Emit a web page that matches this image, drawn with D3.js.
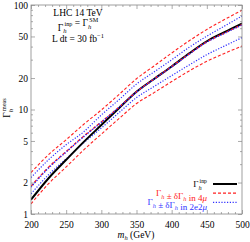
<!DOCTYPE html>
<html>
<head>
<meta charset="utf-8">
<script src="https://cdn.jsdelivr.net/npm/d3@7"></script>
<style>
body{margin:0;background:#fff;}
text{font-family:"Liberation Serif","DejaVu Serif",serif;}
</style>
</head>
<body>
<script>
"use strict";

const masses   = [200,225,250,275,300,325,350,375,400,425,450,475,500];
const gInput   = [1.37,2.2,3.3,4.9,7.1,10.3,14.8,19.6,25.8,34.5,45,55,66.5];
const red4mu   = [1.84,2.8,3.96,5.55,7.6,10.5,14.8,19.6,25.8,34.1,44.5,53.8,65.0];
const red4muUp = [2.49,3.7,5.14,7.22,9.9,13.9,19.7,26.1,34.7,45.5,58.3,72.5,89.2];
const red4muLo = [1.25,1.95,2.82,4.11,5.81,8.17,11.4,14.5,18.5,23.4,28.9,34.4,40.5];
const blue2e2mu   = [1.81,2.76,3.92,5.5,7.55,10.45,14.7,19.5,25.6,33.9,44.2,53.5,64.5];
const blue2e2muUp = [2.23,3.31,4.6,6.12,8.86,12.4,17.5,22.9,29.9,39.4,50.3,62.8,78.5];
const blue2e2muLo = [1.56,2.38,3.37,4.8,6.65,9.32,13.0,16.6,21.1,26.7,33.5,40.5,48.7];
const xTicks = [200,250,300,350,400,450,500];
const yTicks = [1,2,5,10,20,50,100];

const w = 250, h = 242;
const pL = 31, pR = 242, pT = 5, pB = 214;

const svg = d3.select("body").append("svg")
  .attr("width", w).attr("height", h);

const x = d3.scaleLinear().domain([200,500]).range([pL,pR]);
const y = d3.scaleLog().domain([1,100]).range([pB,pT]);

const xMinor = d3.range(200,501,10).filter(v => v % 50 != 0);
const yMinor = [3,4,6,7,8,9,30,40,60,70,80,90];

svg.append("defs").append("clipPath").attr("id","clip")
  .append("rect").attr("x",pL).attr("y",pT)
  .attr("width",pR-pL).attr("height",pB-pT);

const line = d3.line()
  .x((d,i) => x(masses[i]))
  .y(d => y(d))
  .curve(d3.curveMonotoneX);

const series = [
  {v: red4muUp, c: "#ff2020", dash: "3,2", wd: 1.1},
  {v: red4muLo, c: "#ff2020", dash: "3,2", wd: 1.1},
  {v: blue2e2muUp, c: "#3030ff", dash: "1.2,1.6", wd: 1.2},
  {v: blue2e2muLo, c: "#3030ff", dash: "1.2,1.6", wd: 1.2},
  {v: gInput, c: "#000", dash: null, wd: 2},
  {v: red4mu, c: "#ff2020", dash: "3,2", wd: 1.4},
  {v: blue2e2mu, c: "#2020ff", dash: "1.2,1.6", wd: 1.4}
];

svg.append("g").attr("clip-path","url(#clip)")
  .selectAll("path").data(series).enter().append("path")
  .attr("d", d => line(d.v))
  .attr("fill","none")
  .attr("stroke", d => d.c)
  .attr("stroke-width", d => d.wd)
  .attr("stroke-dasharray", d => d.dash);

// frame + ticks
svg.append("rect").attr("x",pL).attr("y",pT)
  .attr("width",pR-pL).attr("height",pB-pT)
  .attr("fill","none").attr("stroke","#888").attr("stroke-width",0.8);

function styleAxis(g){
  g.select(".domain").remove();
  g.selectAll("line").attr("stroke","#888").attr("stroke-width",0.7);
  g.selectAll("text").attr("font-size","9.5px").attr("fill","#000")
    .attr("font-family","'Liberation Serif',serif");
}

svg.append("g").attr("transform","translate(0,"+pB+")")
  .call(d3.axisBottom(x).tickValues(xTicks).tickSize(-4).tickPadding(7).tickFormat(d3.format("d")))
  .call(styleAxis);
svg.append("g").attr("transform","translate(0,"+pB+")")
  .call(d3.axisBottom(x).tickValues(xMinor).tickSize(-2).tickFormat(""))
  .call(styleAxis);
svg.append("g").attr("transform","translate(0,"+pT+")")
  .call(d3.axisTop(x).tickValues(xTicks).tickSize(-4).tickFormat(""))
  .call(styleAxis);
svg.append("g").attr("transform","translate(0,"+pT+")")
  .call(d3.axisTop(x).tickValues(xMinor).tickSize(-2).tickFormat(""))
  .call(styleAxis);

svg.append("g").attr("transform","translate("+pL+",0)")
  .call(d3.axisLeft(y).tickValues(yTicks).tickSize(-4).tickPadding(3).tickFormat(d3.format("d")))
  .call(styleAxis);
svg.append("g").attr("transform","translate("+pL+",0)")
  .call(d3.axisLeft(y).tickValues(yMinor).tickSize(-2).tickFormat(""))
  .call(styleAxis);
svg.append("g").attr("transform","translate("+pR+",0)")
  .call(d3.axisRight(y).tickValues(yTicks).tickSize(-4).tickFormat(""))
  .call(styleAxis);
svg.append("g").attr("transform","translate("+pR+",0)")
  .call(d3.axisRight(y).tickValues(yMinor).tickSize(-2).tickFormat(""))
  .call(styleAxis);

// helper for Γ_h with super/subscripts
function gammaH(t, sup, fs){
  t.append("tspan").text("Γ");
  t.append("tspan").text("h").attr("font-style","italic")
    .attr("font-size",fs*0.7).attr("dy",2.5);
  if(sup){
    t.append("tspan").text(sup).attr("font-size",fs*0.65).attr("dy",-7).attr("dx",-2);
    t.append("tspan").attr("dy",4.5).text("");
  } else {
    t.append("tspan").attr("dy",-2.5).text("");
  }
}

// axis titles
const xt = svg.append("text").attr("x",136).attr("y",238)
  .attr("text-anchor","middle").attr("font-size","9.5px");
xt.append("tspan").text("m").attr("font-style","italic");
xt.append("tspan").text("h").attr("font-style","italic").attr("font-size","6.5px").attr("dy",2);
xt.append("tspan").text(" (GeV)").attr("dy",-2);

const yt = svg.append("text").attr("transform","translate(10,108) rotate(-90)")
  .attr("text-anchor","middle").attr("font-size","9.5px");
gammaH(yt,"meas",9.5);

// info box
svg.append("text").attr("x",78).attr("y",15.5).attr("text-anchor","middle")
  .attr("font-size","9.5px").text("LHC 14 TeV");
const t2 = svg.append("text").attr("x",78).attr("y",30.5).attr("text-anchor","middle")
  .attr("font-size","9.5px");
gammaH(t2,"inp",9.5);
t2.append("tspan").text(" = ");
gammaH(t2,"SM",9.5);
const t3 = svg.append("text").attr("x",78).attr("y",42).attr("text-anchor","middle")
  .attr("font-size","9.5px");
t3.append("tspan").text("L dt = 30 fb");
t3.append("tspan").text("−1").attr("font-size","6.5px").attr("dy",-4);

// legend
const legend = [
  {c:"#000", dash:null, wd:2, extra:""},
  {c:"#ff2020", dash:"3,2", wd:1.2, extra:"in 4"},
  {c:"#3030ff", dash:"1.2,1.6", wd:1.2, extra:"in 2e2"}
];
legend.forEach((d,i) => {
  const ly = 184 + i*9.2;
  svg.append("line").attr("x1",213).attr("x2",237).attr("y1",ly).attr("y2",ly)
    .attr("stroke",d.c).attr("stroke-width",d.wd).attr("stroke-dasharray",d.dash);
  const t = svg.append("text").attr("x",207).attr("y",ly+3)
    .attr("text-anchor","end").attr("font-size","9px").attr("fill",d.c);
  if(i==0){
    gammaH(t,"inp",9);
  } else {
    gammaH(t,null,9);
    t.append("tspan").text(" ± δ");
    gammaH(t,null,9);
    t.append("tspan").text(" " + d.extra);
    t.append("tspan").text("μ").attr("font-style","italic");
  }
});
</script>
</body>
</html>
